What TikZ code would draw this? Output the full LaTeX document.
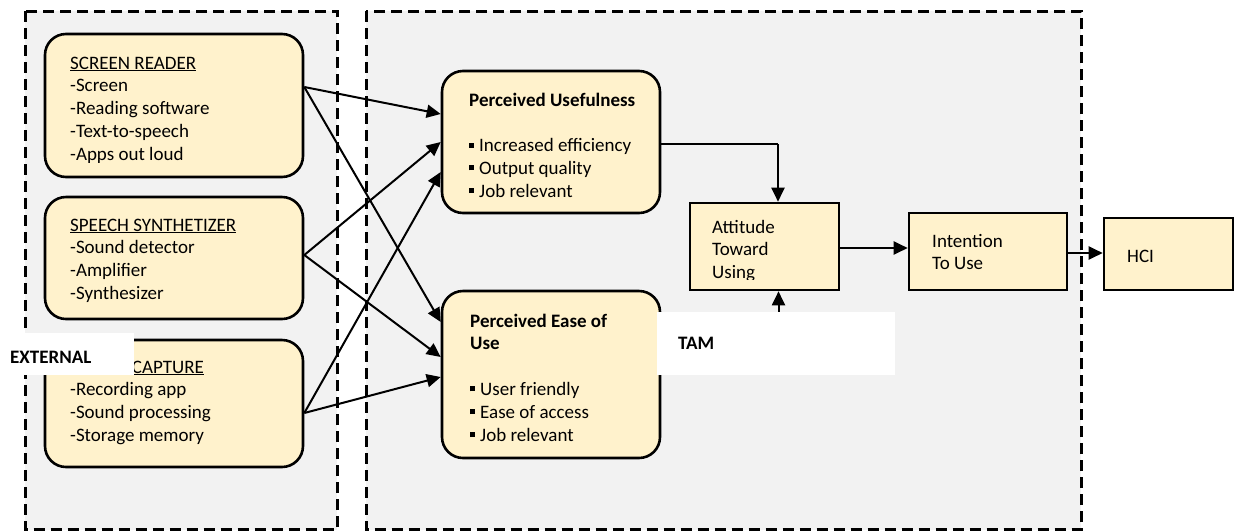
\documentclass[tikz,border=0pt]{standalone}
\usepackage{fontspec}
\setmainfont{Carlito}
\usetikzlibrary{arrows.meta}
\definecolor{panelgray}{HTML}{F2F2F2}
\definecolor{boxyellow}{HTML}{FFF2CC}
\tikzset{
  panel/.style={draw=black, fill=panelgray, line width=3pt, dash pattern=on 11pt off 6pt},
  rbox/.style={draw=black, fill=boxyellow, line width=2.6pt, rounded corners=21pt, inner sep=0pt},
  sbox/.style={draw=black, fill=boxyellow, line width=2.6pt, inner sep=0pt},
  conn/.style={line width=2pt, -{Triangle[length=14pt,width=13pt]}},
  thinconn/.style={line width=1.2pt},
  txt/.style={anchor=base west, inner sep=0pt, font=\fontsize{19}{22.8}\selectfont},
  whitelabel/.style={fill=white, draw=none, inner sep=0pt},
}
\newcommand{\sqbul}{\rule[4pt]{5pt}{5pt}\hspace{5pt}}
\begin{document}
\begin{tikzpicture}[x=1pt,y=-1pt]
\useasboundingbox (0,0) rectangle (1241,531);
% panels
\draw[panel] (25,11) rectangle (337,529.5);
\draw[panel] (366,11) rectangle (1081,529.5);
% boxes
\node[rbox, minimum width=258pt, minimum height=143pt] (sr) at (174,105.5) {};
\node[rbox, minimum width=258pt, minimum height=122pt] (ss) at (174,258) {};
\node[rbox, minimum width=258pt, minimum height=127pt] (vc) at (174,403.5) {};
\node[rbox, minimum width=218pt, minimum height=142pt] (pu) at (551,142) {};
\node[rbox, minimum width=218pt, minimum height=167pt] (peou) at (551,374.5) {};
\node[sbox, minimum width=149pt, minimum height=87pt] (att) at (764.5,246.5) {};
\node[sbox, minimum width=158pt, minimum height=77pt] (int) at (988,251.5) {};
\node[sbox, minimum width=129pt, minimum height=72pt] (hci) at (1168.5,254) {};
% texts
\begin{scope}
\clip (50,40) rectangle (300,162);
\node[txt] (srt) at (70,69) {\parbox[t]{220pt}{\underline{SCREEN READER}\\-Screen\\-Reading software\\-Text-to-speech\\-Apps out loud}};
\end{scope}
\node[txt] (sst) at (70,231) {\parbox[t]{220pt}{\underline{SPEECH SYNTHETIZER}\\-Sound detector\\-Amplifier\\-Synthesizer}};
\node[txt] (vct) at (70,373) {\parbox[t]{220pt}{\underline{SOUND CAPTURE}\\-Recording app\\-Sound processing\\-Storage memory}};
\node[txt] (put) at (469,106) {\parbox[t]{190pt}{\textbf{Perceived Usefulness}\\[22.8pt]\sqbul Increased efficiency\\\sqbul Output quality\\\sqbul Job relevant}};
\node[txt] (peout) at (470,327) {\parbox[t]{190pt}{\textbf{Perceived Ease of}\\\textbf{Use}\\[22.8pt]\sqbul User friendly\\\sqbul Ease of access\\\sqbul Job relevant}};
\begin{scope}
\clip (695,208) rectangle (835,279);
\node[txt] (attt) at (712,233) {\parbox[t]{120pt}{Attitude\\Toward\\Using}};
\end{scope}
\node[txt] (intt) at (932,247) {\parbox[t]{120pt}{Intention\\To Use}};
\node[txt] (hcit) at (1127,262) {HCI};
% connectors
\draw[conn] ([yshift=18.5pt]sr.east) -- ([yshift=28pt]pu.west);
\draw[conn] ([yshift=18.5pt]sr.east) -- ([yshift=52.5pt]peou.west);
\draw[conn] ([yshift=3pt]ss.east) -- (pu.west);
\draw[conn] ([yshift=3pt]ss.east) -- ([yshift=17.5pt]peou.west);
\draw[conn] ([yshift=-9.5pt]vc.east) -- ([yshift=-30pt]pu.west);
\draw[conn] ([yshift=-9.5pt]vc.east) -- ([yshift=-2.5pt]peou.west);
\coordinate (bend) at (778,144);
\draw[thinconn] ([yshift=-2pt]pu.east) -- (bend);
\draw[conn] (bend) -- (bend |- att.north);
\draw[conn] ([yshift=24.5pt]peou.east) -| ([xshift=14pt]att.south);
\draw[conn] ([yshift=-1.5pt]att.east) -- ([yshift=-1.5pt]att.east -| int.west);
\draw[conn] ([yshift=-1.5pt]int.east) -- ([yshift=-1.5pt]int.east -| hci.west);
% white labels
\node[whitelabel, minimum width=238pt, minimum height=63pt] (tambox) at (776,343.5) {};
\node[txt, font=\fontsize{19}{22.8}\selectfont\bfseries] (tam) at (678,349) {TAM};
\node[whitelabel, minimum width=129pt, minimum height=42pt] (extbox) at (69.5,354) {};
\node[txt, font=\fontsize{19}{22.8}\selectfont\bfseries] (ext) at (10,363) {EXTERNAL};
\end{tikzpicture}
\end{document}
